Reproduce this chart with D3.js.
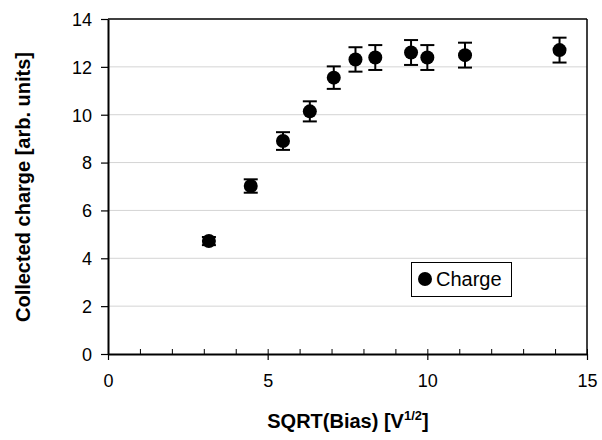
<!DOCTYPE html>
<html><head><meta charset="utf-8">
<script src="https://cdn.jsdelivr.net/npm/d3@7"></script>
<style>body{margin:0;background:#fff}svg{display:block}text{font-family:"Liberation Sans",Arial,sans-serif}</style>
</head><body><svg id="c" width="602" height="440"></svg>
<script>
const biasSqrt = [3.16, 4.47, 5.48, 6.32, 7.07, 7.75, 8.37, 9.49, 10.0, 11.18, 14.14];
const charge   = [4.72, 7.02, 8.90, 10.14, 11.55, 12.31, 12.39, 12.60, 12.39, 12.49, 12.70];
const chargeErr= [0.17, 0.28, 0.37, 0.42, 0.47, 0.51, 0.52, 0.52, 0.52, 0.52, 0.52];
const xTicks = [0, 5, 10, 15];
const xMinor = d3.range(0, 16, 1);
const yTicks = [0, 2, 4, 6, 8, 10, 12, 14];
const seriesName = "Charge";

const svg = d3.select("#c");
const L = 108, R = 587, T = 19, B = 354;
const x = d3.scaleLinear().domain([0, 15]).range([L, R]);
const y = d3.scaleLinear().domain([0, 14]).range([B, T]);

// grid
svg.append("g").selectAll("line").data(yTicks.filter(v => v > 0 && v < 14)).join("line")
  .attr("x1", L).attr("x2", R).attr("y1", d => y(d)).attr("y2", d => y(d))
  .attr("stroke", "#d4d4d4").attr("stroke-width", 1);

// frame top/right
svg.append("line").attr("x1", L).attr("x2", R).attr("y1", T).attr("y2", T).attr("stroke", "#000").attr("stroke-width", 1.5);
svg.append("line").attr("x1", R).attr("x2", R).attr("y1", T).attr("y2", B).attr("stroke", "#000").attr("stroke-width", 1.5);

// x minor ticks (inward)
svg.append("g").attr("transform", `translate(0,${B})`)
  .call(d3.axisBottom(x).tickValues(xMinor).tickSize(-5).tickFormat(""))
  .call(g => g.select(".domain").remove())
  .call(g => g.selectAll("line").attr("stroke-width", 1));

// x axis major
const xa = svg.append("g").attr("transform", `translate(0,${B})`)
  .call(d3.axisBottom(x).tickValues(xTicks).tickSize(6).tickSizeOuter(0).tickPadding(14).tickFormat(d3.format("d")));
xa.select(".domain").attr("stroke-width", 2);
xa.selectAll("line").attr("stroke-width", 1.2);
xa.selectAll("text").attr("font-size", 18).attr("fill", "#000");

// y axis
const ya = svg.append("g").attr("transform", `translate(${L},0)`)
  .call(d3.axisLeft(y).tickValues(yTicks).tickSize(7).tickSizeOuter(0).tickPadding(9).tickFormat(d3.format("d")));
ya.select(".domain").attr("stroke-width", 2);
ya.selectAll("line").attr("stroke-width", 1.2);
ya.selectAll("text").attr("font-size", 18).attr("fill", "#000").attr("dy", "0.35em");

// error bars
const data = biasSqrt.map((v, i) => ({x: v, y: charge[i], e: chargeErr[i]}));
const eb = svg.append("g").attr("stroke", "#000").attr("stroke-width", 2);
eb.selectAll(".v").data(data).join("line")
  .attr("x1", d => x(d.x)).attr("x2", d => x(d.x)).attr("y1", d => y(d.y + d.e)).attr("y2", d => y(d.y - d.e));
eb.selectAll(".t").data(data).join("line")
  .attr("x1", d => x(d.x) - 7).attr("x2", d => x(d.x) + 7).attr("y1", d => y(d.y + d.e)).attr("y2", d => y(d.y + d.e));
eb.selectAll(".b").data(data).join("line")
  .attr("x1", d => x(d.x) - 7).attr("x2", d => x(d.x) + 7).attr("y1", d => y(d.y - d.e)).attr("y2", d => y(d.y - d.e));

// points
svg.append("g").selectAll("circle").data(data).join("circle")
  .attr("cx", d => x(d.x)).attr("cy", d => y(d.y)).attr("r", 7).attr("fill", "#000");

// legend
const lg = svg.append("g");
lg.append("rect").attr("x", 411.5).attr("y", 262.5).attr("width", 100).attr("height", 34)
  .attr("fill", "#fff").attr("stroke", "#000").attr("stroke-width", 1);
lg.append("circle").attr("cx", 425).attr("cy", 279).attr("r", 7).attr("fill", "#000");
lg.append("text").attr("x", 436).attr("y", 286).attr("font-size", 20).text(seriesName);

// titles
svg.append("text").attr("x", 348).attr("y", 428).attr("text-anchor", "middle")
  .attr("font-size", 20).attr("font-weight", "bold")
  .call(t => { t.append("tspan").text("SQRT(Bias) [V");
               t.append("tspan").attr("dy", -8).attr("font-size", 13).text("1/2");
               t.append("tspan").attr("dy", 8).text("]"); });
svg.append("text").attr("transform", "translate(30,187) rotate(-90)").attr("text-anchor", "middle")
  .attr("font-size", 20).attr("font-weight", "bold").text("Collected charge [arb. units]");
</script></body></html>
